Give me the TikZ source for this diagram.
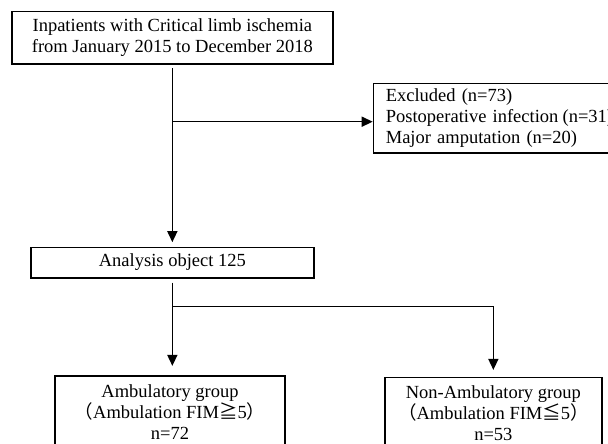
\documentclass[tikz,border=0pt]{standalone}
\usepackage{fontspec}
\setmainfont{Liberation Serif}
\newfontfamily\cjk{Noto Sans CJK JP}
\usepackage{tikz}
\usetikzlibrary{arrows.meta,calc}
\usetikzlibrary{positioning}
\tikzset{flowbox/.style={draw,line width=1.6pt,inner sep=0pt,align=center}}

\begin{document}
\begin{tikzpicture}[x=1pt,y=-1pt,>={Triangle[length=11pt,width=10pt]},line join=miter,line width=1.5pt,font=\fontsize{18.5}{21}\selectfont]
\clip (0,0) rectangle (608,444);
% --- boxes
\node[flowbox,minimum width=321.3pt,minimum height=52.3pt] (top) at (172.35,37.85) {Inpatients with Critical limb ischemia\\from January 2015 to December 2018};
\node[flowbox,anchor=west,align=left,text width=255pt,inner xsep=12.3pt,minimum height=69.3pt] (excl) at (372.7,118.3) {Excluded (n=73)\\Postoperative infection\hspace{-2pt} (n=31)\\Major amputation (n=20)};
\node[flowbox,minimum width=283.3pt,minimum height=30.4pt] (ana) at (172.35,262.5) {Analysis object 125};
\node[flowbox,minimum width=230pt,minimum height=72pt] (amb) at (170,412) {Ambulatory group\\{\cjk （}Ambulation FIM{\cjk ≧}5{\cjk ）}\\n=72};
\node[flowbox,minimum width=216.7pt,minimum height=72pt] (namb) at (493.35,413.3) {Non-Ambulatory group\\{\cjk （}Ambulation FIM{\cjk ≦}5{\cjk ）}\\n=53};
% --- connectors
\coordinate (exclin) at (172,121.7);
\coordinate (split) at (173.3,306.7);
\draw[->,shorten <=3.7pt,shorten >=4.3pt] (top.south) -- (ana.north);
\draw[->] (exclin) -- (exclin -| excl.west);
\draw[shorten <=4.2pt] (ana.south) -- (ana.south |- split);
\draw[->,shorten >=6.6pt] (ana.south |- split) -| (namb.north);
\draw[->,shorten >=9.3pt] (ana.south |- split) -- (ana.south |- amb.north);
\end{tikzpicture}
\end{document}
